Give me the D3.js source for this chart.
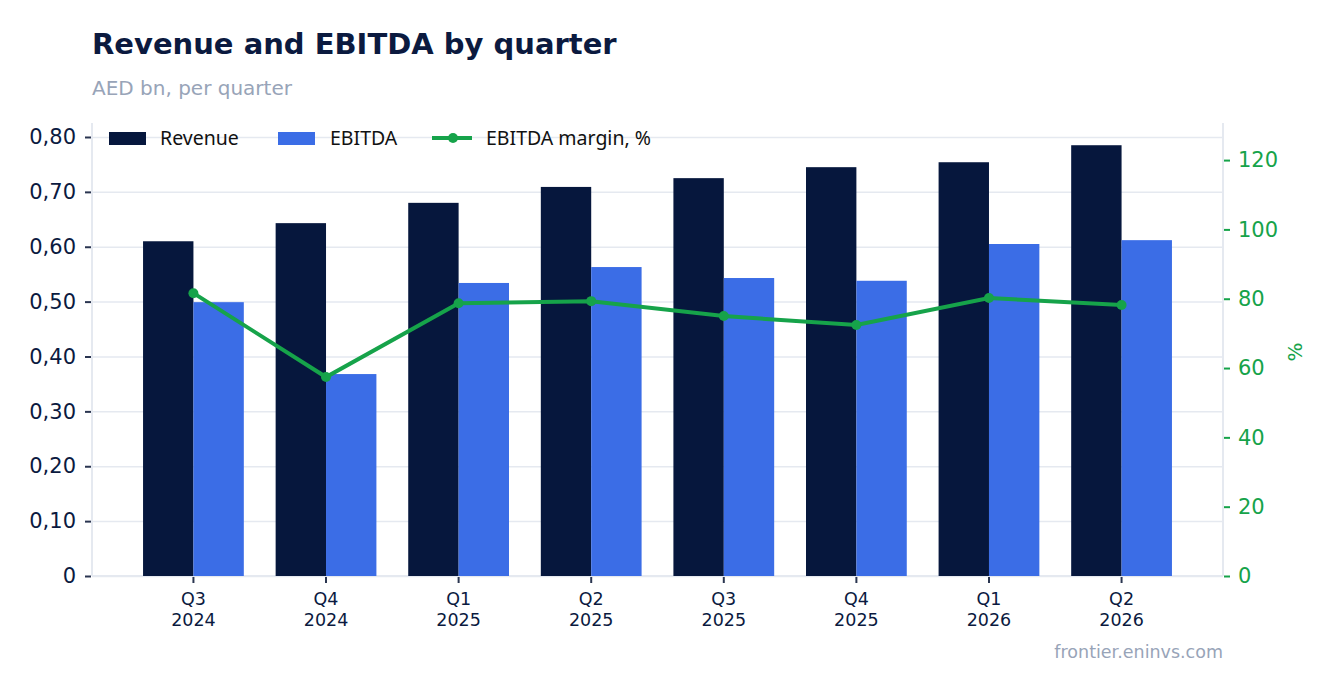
<!DOCTYPE html>
<html>
<head>
<meta charset="utf-8">
<script src="https://d3js.org/d3.v7.min.js"></script>
<style>
body { margin: 0; background: #fff; }
svg text { font-family: "DejaVu Sans", sans-serif; }
.grid line { stroke: #e5e9f0; stroke-width: 1.5px; }
.grid path { stroke-width: 0; }
</style>
</head>
<body>
<svg id="chart"></svg>
<script>
// data
var quarters = ["Q3 2024", "Q4 2024", "Q1 2025", "Q2 2025", "Q3 2025", "Q4 2025", "Q1 2026", "Q2 2026"];
var revenue  = [0.610, 0.643, 0.680, 0.709, 0.725, 0.745, 0.754, 0.785];
var ebitda   = [0.499, 0.368, 0.534, 0.563, 0.543, 0.538, 0.605, 0.612];
var margin_pct = [81.6, 57.4, 78.7, 79.3, 75.0, 72.4, 80.2, 78.2];
var leftTicks  = [0, 0.1, 0.2, 0.3, 0.4, 0.5, 0.6, 0.7, 0.8];
var rightTicks = [0, 20, 40, 60, 80, 100, 120];
var seriesNames = ["Revenue", "EBITDA"];

var colRev = "#06173d", colEb = "#3b6de6", colLine = "#16a34a";
var W = 1336, H = 693;
var pLeft = 92, pRight = 1223, pTop = 123, pBottom = 576;

var svg = d3.select("#chart").attr("width", W).attr("height", H);

var x = d3.scaleBand().domain(quarters).range([pLeft, pRight]).paddingInner(0.24).paddingOuter(0.385);
var x1 = d3.scaleBand().domain(seriesNames).range([0, x.bandwidth()]);
var y = d3.scaleLinear().domain([0, 0.8255]).range([pBottom, pTop]);
var y2 = d3.scaleLinear().domain([0, 130.7]).range([pBottom, pTop]);

var loc = d3.formatLocale({decimal: ",", thousands: " ", grouping: [3], currency: ["", ""]});
var fmtL = function(d) { return d === 0 ? "0" : loc.format(".2f")(d); };

// gridlines
svg.append("g").attr("class", "grid")
    .attr("transform", "translate(" + pLeft + ",0)")
    .call(d3.axisLeft(y).tickValues(leftTicks).tickSize(-(pRight - pLeft)).tickFormat(""));

// axis frame lines
svg.append("line").attr("x1", pLeft).attr("x2", pLeft).attr("y1", pTop).attr("y2", pBottom)
    .style("stroke", "#e5e9f0").style("stroke-width", 2);
svg.append("line").attr("x1", pRight).attr("x2", pRight).attr("y1", pTop).attr("y2", pBottom)
    .style("stroke", "#e5e9f0").style("stroke-width", 2);
svg.append("line").attr("x1", pLeft).attr("x2", pRight).attr("y1", pBottom).attr("y2", pBottom)
    .style("stroke", "#e5e9f0").style("stroke-width", 2);

var rows = quarters.map(function(q, i) { return {q: q, Revenue: revenue[i], EBITDA: ebitda[i], m: margin_pct[i]}; });

// bars
var groups = svg.append("g").selectAll("g").data(rows).enter().append("g")
    .attr("transform", function(d) { return "translate(" + x(d.q) + ",0)"; });
groups.selectAll("rect")
    .data(function(d) { return seriesNames.map(function(k) { return {k: k, v: d[k]}; }); })
    .enter().append("rect")
    .attr("x", function(d) { return x1(d.k); })
    .attr("width", x1.bandwidth())
    .attr("y", function(d) { return y(d.v); })
    .attr("height", function(d) { return pBottom - y(d.v); })
    .attr("fill", function(d) { return d.k === "Revenue" ? colRev : colEb; });

// margin line
var cx = function(d) { return x(d.q) + x.bandwidth() / 2; };
svg.append("path").datum(rows)
    .attr("d", d3.line().x(cx).y(function(d) { return y2(d.m); }))
    .style("fill", "none").style("stroke", colLine).style("stroke-width", 4);
svg.append("g").selectAll("circle").data(rows).enter().append("circle")
    .attr("cx", cx).attr("cy", function(d) { return y2(d.m); })
    .attr("r", 5).attr("fill", colLine);

// left axis
var ax = svg.append("g").attr("transform", "translate(" + (pLeft - 1) + ",0)")
    .call(d3.axisLeft(y).tickValues(leftTicks).tickFormat(fmtL).tickSize(6).tickPadding(9));
ax.select(".domain").remove();
ax.selectAll("line").style("stroke", "#2a3550").style("stroke-width", 2);
ax.selectAll("text").style("font-size", "21px").style("fill", "#0b1a3f");

// right axis
var ar = svg.append("g").attr("transform", "translate(" + (pRight + 1) + ",0)")
    .call(d3.axisRight(y2).tickValues(rightTicks).tickSize(6).tickPadding(8));
ar.select(".domain").remove();
ar.selectAll("line").style("stroke", colLine).style("stroke-width", 2);
ar.selectAll("text").style("font-size", "21px").style("fill", colLine);

// bottom axis
var ab = svg.append("g").attr("transform", "translate(0," + (pBottom + 1) + ")")
    .call(d3.axisBottom(x).tickSize(6).tickFormat(""));
ab.select(".domain").remove();
ab.selectAll("line").style("stroke", "#2a3550").style("stroke-width", 2);
ab.selectAll(".tick").each(function(d) {
    var parts = d.split(" ");
    var t = d3.select(this).append("text").attr("text-anchor", "middle")
        .style("font-size", "17.5px").style("fill", "#0b1a3f");
    t.append("tspan").attr("x", 0).attr("y", 28).text(parts[0]);
    t.append("tspan").attr("x", 0).attr("y", 49).text(parts[1]);
});

// right axis title
svg.append("text").attr("transform", "translate(1302,352) rotate(-90)")
    .attr("text-anchor", "middle").style("font-size", "20px").style("fill", colLine).text("%");

// titles
svg.append("text").attr("x", 92).attr("y", 54).style("font-size", "29px").style("font-weight", "bold")
    .style("fill", "#0b1a3f").text("Revenue and EBITDA by quarter");
svg.append("text").attr("x", 92).attr("y", 95).style("font-size", "20px")
    .style("fill", "#98a4b8").text("AED bn, per quarter");
svg.append("text").attr("x", pRight).attr("y", 658).attr("text-anchor", "end").style("font-size", "17.5px")
    .style("fill", "#98a4b8").text("frontier.eninvs.com");

// legend
var lg = svg.append("g");
function legendText(xp, label) {
    lg.append("text").attr("x", xp).attr("y", 145).style("font-size", "19.5px")
        .style("font-family", "'Noto Sans', sans-serif").style("fill", "#111").text(label);
}
lg.append("rect").attr("x", 109).attr("y", 132).attr("width", 37).attr("height", 13).attr("fill", colRev);
legendText(160, "Revenue");
lg.append("rect").attr("x", 278).attr("y", 132).attr("width", 37).attr("height", 13).attr("fill", colEb);
legendText(330, "EBITDA");
lg.append("line").attr("x1", 432).attr("x2", 472).attr("y1", 138).attr("y2", 138)
    .style("stroke", colLine).style("stroke-width", 4);
lg.append("circle").attr("cx", 453).attr("cy", 138).attr("r", 5).attr("fill", colLine);
legendText(486, "EBITDA margin, %");
</script>
</body>
</html>
